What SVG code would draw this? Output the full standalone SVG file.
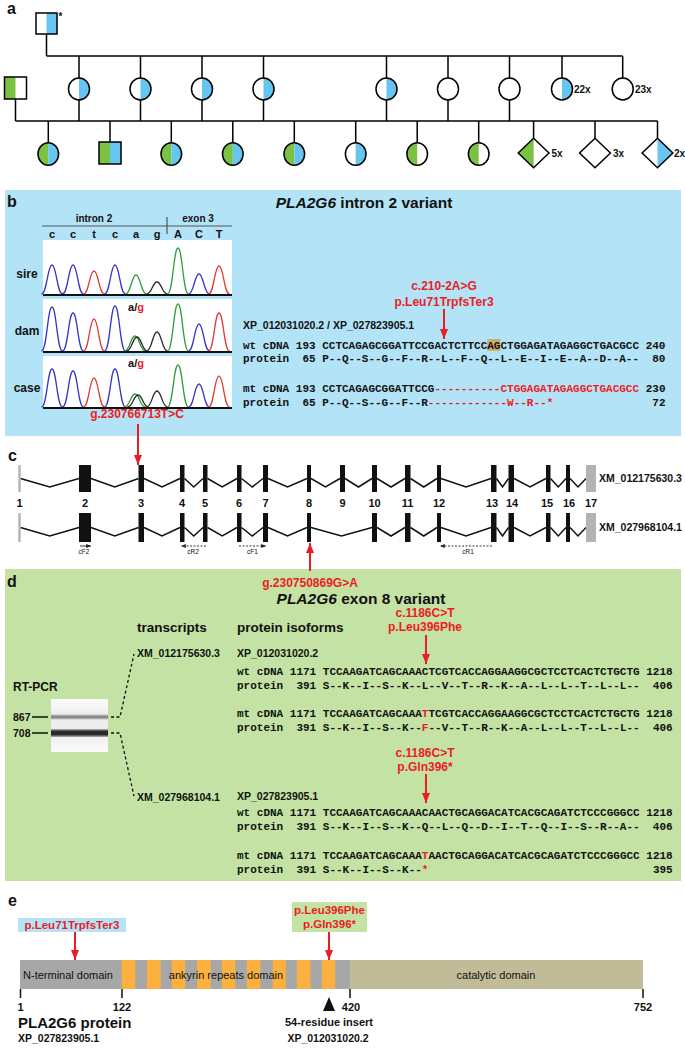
<svg xmlns="http://www.w3.org/2000/svg" width="685" height="1051" viewBox="0 0 685 1051">
<defs>
<style>
text { font-family: "Liberation Sans", Arial, Helvetica, sans-serif; fill: #111; }
.b { font-weight: bold; }
.pl { font-size: 16px; font-weight: bold; }
.mono { font-family: "Liberation Mono", "DejaVu Sans Mono", monospace; font-weight: bold; font-size: 11px; white-space: pre; }
.r { fill: #ed1c24; }
.ln { stroke: #000; stroke-width: 1.5; fill: none; }
.so { stroke: #000; stroke-width: 1.5; fill: none; }
.bl { fill: #67c6ef; }
.gr { fill: #7cc242; }
.ex { fill: #111; }
.exg { fill: #b3b3b3; }
.intr { stroke: #111; stroke-width: 1.5; fill: none; }
.ra { stroke: #ed1c24; stroke-width: 2; fill: none; marker-end: url(#ah); }
.pk { fill: none; stroke-width: 1.3; }
.pB { stroke: #3535c8; } .pR { stroke: #e23a3a; } .pG { stroke: #2f9e3a; } .pK { stroke: #2a2a2a; }
.prim { stroke: #222; stroke-width: 0.9; fill: none; marker-end: url(#ph); }
.dash { stroke-dasharray: 2 1.5; }
.gl { stroke: #111; stroke-width: 1.3; fill: none; stroke-dasharray: 3 2.5; }
.tick { stroke: #111; stroke-width: 1.5; }
.or { fill: #fbb040; }
</style>
<marker id="ah" viewBox="0 0 10 8" refX="10" refY="4" markerWidth="10" markerHeight="8" markerUnits="userSpaceOnUse" orient="auto"><path d="M0,0 L10,4 L0,8 z" fill="#ed1c24"/></marker>
<marker id="ph" viewBox="0 0 6 5" refX="6" refY="2.5" markerWidth="5" markerHeight="4" markerUnits="userSpaceOnUse" orient="auto"><path d="M0,0 L6,2.5 L0,5 z" fill="#222"/></marker>
<linearGradient id="gelbg" x1="0" y1="0" x2="0" y2="1"><stop offset="0" stop-color="#fdfdfd"/><stop offset="0.3" stop-color="#ececec"/><stop offset="0.6" stop-color="#ededed"/><stop offset="1" stop-color="#fafafa"/></linearGradient>
</defs>
<rect width="685" height="1051" fill="#fff"/>

<!-- Panel backgrounds -->
<rect id="panel-b-bg" x="5" y="190" width="676" height="246" fill="#b3e3f6"/>
<rect id="panel-d-bg" x="5" y="569" width="676" height="312" fill="#c3e2a3"/>

<!-- Panel labels -->
<text class="pl" x="7" y="14">a</text>
<text class="pl" x="7" y="207">b</text>
<text class="pl" x="8" y="461">c</text>
<text class="pl" x="7" y="587">d</text>
<text class="pl" x="8" y="906">e</text>

<!-- Connectors -->
<g id="connectors">
  <path class="ln" d="M46.5,34 V56 M46.5,56 H622.7 M79,56 V78 M140.5,56 V78 M202,56 V78 M263.5,56 V78 M386.5,56 V78 M448,56 V78 M509.5,56 V78 M562,56 V78 M622.7,56 V78"/>
  <path class="ln" d="M15.5,99 V121 M15.5,121 H657.5 M79,100 V121 M140.5,100 V121 M202,100 V121 M263.5,100 V121 M386.5,100 V121 M448,100 V121 M509.5,100 V121"/>
  <path class="ln" d="M48.3,121 V142.8 M110,121 V142 M171.3,121 V142.8 M232.8,121 V142.8 M294.3,121 V142.8 M355.7,121 V142.8 M417.2,121 V142.8 M478.7,121 V142.8 M533.6,121 V138.3 M595,121 V138.3 M657.5,121 V138.3"/>
  <line class="ra" x1="138" y1="424" x2="138" y2="465"/>
  <line class="ra" x1="444" y1="309" x2="444" y2="339"/>
  <line class="ra" x1="310" y1="571" x2="310" y2="543"/>
  <line class="ra" x1="426" y1="635" x2="426" y2="664"/>
  <line class="ra" x1="426" y1="774" x2="426" y2="803"/>
  <line class="ra" x1="75" y1="932" x2="75" y2="960"/>
  <line class="ra" x1="329" y1="932" x2="329" y2="960"/>
  <path class="gl" d="M111,717 H120 L134,654"/>
  <path class="gl" d="M111,733 H120 L134,796"/>
</g>

<!-- Panel a: pedigree -->
<g id="pedigree">
  <g id="I-1"><rect x="46.5" y="13" width="10.5" height="21" class="bl"/><rect x="36" y="13" width="21" height="21" class="so"/><text x="58.5" y="20" class="b" font-size="10">*</text></g>
  <g id="II-m"><rect x="4.5" y="77" width="11" height="22" class="gr"/><rect x="4.5" y="77" width="22" height="22" class="so"/></g>
  <g id="II-1"><path d="M79,78 A10.5,11 0 0 1 79,100 Z" class="bl"/><ellipse cx="79" cy="89" rx="10.5" ry="11" class="so"/></g>
  <g id="II-2"><path d="M140.5,78 A10.5,11 0 0 1 140.5,100 Z" class="bl"/><ellipse cx="140.5" cy="89" rx="10.5" ry="11" class="so"/></g>
  <g id="II-3"><path d="M202,78 A10.5,11 0 0 1 202,100 Z" class="bl"/><ellipse cx="202" cy="89" rx="10.5" ry="11" class="so"/></g>
  <g id="II-4"><path d="M263.5,78 A10.5,11 0 0 1 263.5,100 Z" class="bl"/><ellipse cx="263.5" cy="89" rx="10.5" ry="11" class="so"/></g>
  <g id="II-5"><path d="M386.5,78 A10.5,11 0 0 1 386.5,100 Z" class="bl"/><ellipse cx="386.5" cy="89" rx="10.5" ry="11" class="so"/></g>
  <g id="II-6"><ellipse cx="448" cy="89" rx="10.5" ry="11" class="so"/></g>
  <g id="II-7"><ellipse cx="509.5" cy="89" rx="10.5" ry="11" class="so"/></g>
  <g id="II-8"><path d="M562,78 A10.5,11 0 0 1 562,100 Z" class="bl"/><ellipse cx="562" cy="89" rx="10.5" ry="11" class="so"/><text x="574" y="92.5" class="b" font-size="10">22x</text></g>
  <g id="II-9"><ellipse cx="622.7" cy="89" rx="10.5" ry="11" class="so"/><text x="635" y="92.5" class="b" font-size="10">23x</text></g>

  <g id="III-1"><path d="M48.3,142.8 A10.3,11.2 0 0 0 48.3,165.2 Z" class="gr"/><path d="M48.3,142.8 A10.3,11.2 0 0 1 48.3,165.2 Z" class="bl"/><ellipse cx="48.3" cy="154" rx="10.3" ry="11.2" class="so"/></g>
  <g id="III-2"><rect x="99" y="142" width="11" height="22" class="gr"/><rect x="110" y="142" width="11" height="22" class="bl"/><rect x="99" y="142" width="22" height="22" class="so"/></g>
  <g id="III-3"><path d="M171.3,142.8 A10.3,11.2 0 0 0 171.3,165.2 Z" class="gr"/><path d="M171.3,142.8 A10.3,11.2 0 0 1 171.3,165.2 Z" class="bl"/><ellipse cx="171.3" cy="154" rx="10.3" ry="11.2" class="so"/></g>
  <g id="III-4"><path d="M232.8,142.8 A10.3,11.2 0 0 0 232.8,165.2 Z" class="gr"/><path d="M232.8,142.8 A10.3,11.2 0 0 1 232.8,165.2 Z" class="bl"/><ellipse cx="232.8" cy="154" rx="10.3" ry="11.2" class="so"/></g>
  <g id="III-5"><path d="M294.3,142.8 A10.3,11.2 0 0 0 294.3,165.2 Z" class="gr"/><path d="M294.3,142.8 A10.3,11.2 0 0 1 294.3,165.2 Z" class="bl"/><ellipse cx="294.3" cy="154" rx="10.3" ry="11.2" class="so"/></g>
  <g id="III-6"><path d="M355.7,142.8 A10.3,11.2 0 0 1 355.7,165.2 Z" class="bl"/><ellipse cx="355.7" cy="154" rx="10.3" ry="11.2" class="so"/></g>
  <g id="III-7"><path d="M417.2,142.8 A10.3,11.2 0 0 0 417.2,165.2 Z" class="gr"/><ellipse cx="417.2" cy="154" rx="10.3" ry="11.2" class="so"/></g>
  <g id="III-8"><path d="M478.7,142.8 A10.3,11.2 0 0 0 478.7,165.2 Z" class="gr"/><ellipse cx="478.7" cy="154" rx="10.3" ry="11.2" class="so"/></g>
  <g id="III-9"><polygon points="533.6,138.3 518.2,153 533.6,167.7" class="gr"/><polygon points="533.6,138.3 549,153 533.6,167.7 518.2,153" class="so"/><text x="551.5" y="156.5" class="b" font-size="10">5x</text></g>
  <g id="III-10"><polygon points="595,138.3 610.4,153 595,167.7 579.6,153" class="so"/><text x="613" y="156.5" class="b" font-size="10">3x</text></g>
  <g id="III-11"><polygon points="657.5,138.3 672.9,153 657.5,167.7" class="bl"/><polygon points="657.5,138.3 672.9,153 657.5,167.7 642.1,153" class="so"/><text x="674" y="156.5" class="b" font-size="10">2x</text></g>
</g>

<!-- Panel b -->
<g id="panel-b">
  <text x="364" y="208" text-anchor="middle" class="b" font-size="15.5"><tspan font-style="italic">PLA2G6</tspan> intron 2 variant</text>
  <g id="chromatogram">
    <text x="94" y="222" text-anchor="middle" class="b" font-size="10">intron 2</text>
    <text x="198" y="222" text-anchor="middle" class="b" font-size="10">exon 3</text>
    <path d="M42,226 H232 M167,217 V234" stroke="#555" stroke-width="1.2"/>
    <g class="b" font-size="11" text-anchor="middle">
      <text x="52" y="238">c</text><text x="73" y="238">c</text><text x="94" y="238">t</text><text x="115" y="238">c</text><text x="136" y="238">a</text><text x="157" y="238">g</text><text x="178" y="238">A</text><text x="199" y="238">C</text><text x="219" y="238">T</text>
    </g>
    <rect x="43" y="240" width="189" height="56" fill="#fff"/>
    <rect x="43" y="299" width="189" height="54" fill="#fff"/>
    <rect x="43" y="356" width="189" height="53" fill="#fff"/>
    <g class="b" font-size="12" text-anchor="middle">
      <text x="27" y="278">sire</text><text x="27" y="335">dam</text><text x="27" y="392">case</text>
    </g>
    <!-- sire -->
    <path class="pk pB" d="M41.5,294 C47,294 47.5,265 52,265 S57,294 62.5,294 M62.5,294 C68,294 68.5,265 73,265 S78,294 83.5,294 M104.5,294 C110,294 110.5,265 115,265 S120,294 125.5,294 M188.5,294 C194,294 194.5,274 199,274 S204,294 209.5,294"/>
    <path class="pk pR" d="M83.5,294 C89,294 89.5,271 94,271 S99,294 104.5,294 M208.5,294 C214,294 214.5,266 219,266 S224,294 229.5,294"/>
    <path class="pk pG" d="M125.5,294 C131,294 131.5,275 136,275 S141,294 146.5,294 M167.5,294 C173,294 173.5,248 178,248 S183,294 188.5,294"/>
    <path class="pk pK" d="M146.5,294 C152,294 152.5,282 157,282 S162,294 167.5,294"/>
    <line x1="43" y1="295" x2="232" y2="295" stroke="#111" stroke-width="2"/>
    <!-- dam -->
    <path class="pk pB" d="M41.5,351 C47,351 47.5,307 52,307 S57,351 62.5,351 M62.5,351 C68,351 68.5,313 73,313 S78,351 83.5,351 M104.5,351 C110,351 110.5,306 115,306 S120,351 125.5,351 M188.5,351 C194,351 194.5,324 199,324 S204,351 209.5,351"/>
    <path class="pk pR" d="M83.5,351 C89,351 89.5,319 94,319 S99,351 104.5,351 M208.5,351 C214,351 214.5,313 219,313 S224,351 229.5,351"/>
    <path class="pk pG" d="M124.5,351 C130,351 130.5,336 135,336 S140,351 145.5,351 M167.5,351 C173,351 173.5,304 178,304 S183,351 188.5,351"/>
    <path class="pk pK" d="M126.5,351 C132,351 132.5,337 137,337 S142,351 147.5,351 M146.5,351 C152,351 152.5,332 157,332 S162,351 167.5,351"/>
    <line x1="43" y1="352" x2="232" y2="352" stroke="#111" stroke-width="2"/>
    <text x="136" y="311" text-anchor="middle" class="b" font-size="11">a/<tspan class="r">g</tspan></text>
    <!-- case -->
    <path class="pk pB" d="M41.5,407 C47,407 47.5,369 52,369 S57,407 62.5,407 M62.5,407 C68,407 68.5,371 73,371 S78,407 83.5,407 M104.5,407 C110,407 110.5,369 115,369 S120,407 125.5,407 M188.5,407 C194,407 194.5,384 199,384 S204,407 209.5,407"/>
    <path class="pk pR" d="M83.5,407 C89,407 89.5,378 94,378 S99,407 104.5,407 M208.5,407 C214,407 214.5,376 219,376 S224,407 229.5,407"/>
    <path class="pk pG" d="M124.5,407 C130,407 130.5,394 135,394 S140,407 145.5,407 M167.5,407 C173,407 173.5,365 178,365 S183,407 188.5,407"/>
    <path class="pk pK" d="M127.5,407 C133,407 133.5,395 138,395 S143,407 148.5,407 M146.5,407 C152,407 152.5,391 157,391 S162,407 167.5,407"/>
    <line x1="43" y1="408" x2="232" y2="408" stroke="#111" stroke-width="2"/>
    <text x="136" y="367" text-anchor="middle" class="b" font-size="11">a/<tspan class="r">g</tspan></text>
  </g>
  <text x="137" y="418" text-anchor="middle" class="b r" font-size="12">g.230766713T&gt;C</text>
  <text x="444" y="290" text-anchor="middle" class="b r" font-size="12">c.210-2A&gt;G</text>
  <text x="444" y="306" text-anchor="middle" class="b r" font-size="12">p.Leu71TrpfsTer3</text>
  <text x="243" y="329" class="b" font-size="10.5">XP_012031020.2 / XP_027823905.1</text>
  <rect x="487.2" y="339" width="13.2" height="12" fill="#cfae6b"/>
  <text x="243" y="349" class="mono" xml:space="preserve">wt cDNA 193 CCTCAGAGCGGATTCCGACTCTTCCAGCTGGAGATAGAGGCTGACGCC 240</text>
  <text x="243" y="362" class="mono" xml:space="preserve">protein  65 P--Q--S--G--F--R--L--F--Q--L--E--I--E--A--D--A--  80</text>
  <text x="243" y="392" class="mono" xml:space="preserve">mt cDNA 193 CCTCAGAGCGGATTCCG<tspan class="r">----------CTGGAGATAGAGGCTGACGCC</tspan> 230</text>
  <text x="243" y="406" class="mono" xml:space="preserve">protein  65 P--Q--S--G--F--R<tspan class="r">------------W--R--*</tspan>               72</text>
</g>

<!-- Panel c: gene structure -->
<g id="panel-c">
  <g id="transcript-1">
    <path class="intr" d="M20.5,478.5 L49.75,487 L79,478.5 M91,478.5 L114.75,487 L138.5,478.5 M144,478.5 L162,487 L180,478.5 M184.5,478.5 L193.75,487 L203,478.5 M207.5,478.5 L222.25,487 L237,478.5 M241.5,478.5 L252.25,487 L263,478.5 M268,478.5 L287.5,487 L307,478.5 M311,478.5 L325.5,487 L340,478.5 M345,478.5 L358.5,487 L372,478.5 M377,478.5 L391,487 L405,478.5 M410.5,478.5 L423.75,487 L437,478.5 M441,478.5 L466,487 L491,478.5 M496.5,478.5 L502.5,487 L508.5,478.5 M514,478.5 L530,487 L546,478.5 M550.5,478.5 L558.25,487 L566,478.5 M570,478.5 L578,487 L586,478.5"/>
    <rect class="exg" x="18.3" y="465" width="2.4" height="27"/>
    <rect class="ex" x="79" y="465" width="12" height="27"/>
    <rect class="ex" x="138.5" y="465" width="5.5" height="27"/>
    <rect class="ex" x="180" y="465" width="4.5" height="27"/>
    <rect class="ex" x="203" y="465" width="4.5" height="27"/>
    <rect class="ex" x="237" y="465" width="4.5" height="27"/>
    <rect class="ex" x="263" y="465" width="5" height="27"/>
    <rect class="ex" x="307" y="465" width="4" height="27"/>
    <rect class="ex" x="340" y="465" width="5" height="27"/>
    <rect class="ex" x="372" y="465" width="5" height="27"/>
    <rect class="ex" x="405" y="465" width="5.5" height="27"/>
    <rect class="ex" x="437" y="465" width="4" height="27"/>
    <rect class="ex" x="491" y="465" width="5.5" height="27"/>
    <rect class="ex" x="508.5" y="465" width="5.5" height="27"/>
    <rect class="ex" x="546" y="465" width="4.5" height="27"/>
    <rect class="ex" x="566" y="465" width="4" height="27"/>
    <rect class="exg" x="586" y="465" width="10" height="27"/>
    <text x="599" y="482" class="b" font-size="10.5">XM_012175630.3</text>
  </g>
  <g id="exon-numbers" class="b" font-size="11" text-anchor="middle">
    <text x="19.5" y="507">1</text><text x="85" y="507">2</text><text x="141" y="507">3</text><text x="182" y="507">4</text><text x="205" y="507">5</text><text x="239" y="507">6</text><text x="265.5" y="507">7</text><text x="309" y="507">8</text><text x="342.5" y="507">9</text><text x="374.5" y="507">10</text><text x="407.5" y="507">11</text><text x="439" y="507">12</text><text x="492" y="507">13</text><text x="512" y="507">14</text><text x="547" y="507">15</text><text x="569" y="507">16</text><text x="591" y="507">17</text>
  </g>
  <g id="transcript-2">
    <path class="intr" d="M20.5,527.5 L49.75,536 L79,527.5 M91,527.5 L114.75,536 L138.5,527.5 M144,527.5 L162,536 L180,527.5 M184.5,527.5 L193.75,536 L203,527.5 M207.5,527.5 L222.25,536 L237,527.5 M241.5,527.5 L252.25,536 L263,527.5 M268,527.5 L287.5,536 L307,527.5 M311,527.5 L341.5,536 L372,527.5 M377,527.5 L391,536 L405,527.5 M410.5,527.5 L423.75,536 L437,527.5 M441,527.5 L466,536 L491,527.5 M496.5,527.5 L502.5,536 L508.5,527.5 M514,527.5 L530,536 L546,527.5 M550.5,527.5 L558.25,536 L566,527.5 M570,527.5 L578,536 L586,527.5"/>
    <rect class="exg" x="18.3" y="513" width="2.4" height="29"/>
    <rect class="ex" x="79" y="513" width="12" height="29"/>
    <rect class="ex" x="138.5" y="513" width="5.5" height="29"/>
    <rect class="ex" x="180" y="513" width="4.5" height="29"/>
    <rect class="ex" x="203" y="513" width="4.5" height="29"/>
    <rect class="ex" x="237" y="513" width="4.5" height="29"/>
    <rect class="ex" x="263" y="513" width="5" height="29"/>
    <rect class="ex" x="307" y="513" width="4" height="29"/>
    <rect class="ex" x="372" y="513" width="5" height="29"/>
    <rect class="ex" x="405" y="513" width="5.5" height="29"/>
    <rect class="ex" x="437" y="513" width="4" height="29"/>
    <rect class="ex" x="491" y="513" width="5.5" height="29"/>
    <rect class="ex" x="508.5" y="513" width="5.5" height="29"/>
    <rect class="ex" x="546" y="513" width="4.5" height="29"/>
    <rect class="ex" x="566" y="513" width="4" height="29"/>
    <rect class="exg" x="586" y="513" width="10" height="29"/>
    <text x="599" y="531" class="b" font-size="10.5">XM_027968104.1</text>
  </g>
  <g id="primers">
    <line class="prim" x1="80" y1="546" x2="91" y2="546"/>
    <line class="prim dash" x1="206" y1="546" x2="181" y2="546"/>
    <line class="prim dash" x1="239" y1="546" x2="266" y2="546"/>
    <line class="prim dash" x1="492" y1="546" x2="440" y2="546"/>
    <g font-size="6.5" text-anchor="middle"><text x="84" y="554">cF2</text><text x="193" y="554">cR2</text><text x="252.5" y="554">cF1</text><text x="468" y="554">cR1</text></g>
  </g>
</g>

<!-- Panel d -->
<g id="panel-d">
  <text x="310" y="587" text-anchor="middle" class="b r" font-size="12">g.230750869G&gt;A</text>
  <text x="361" y="604" text-anchor="middle" class="b" font-size="15.5"><tspan font-style="italic">PLA2G6</tspan> exon 8 variant</text>
  <text x="137" y="632" class="b" font-size="13.5">transcripts</text>
  <text x="237" y="632" class="b" font-size="13.5">protein isoforms</text>
  <text x="425" y="617" text-anchor="middle" class="b r" font-size="12">c.1186C&gt;T</text>
  <text x="425" y="631" text-anchor="middle" class="b r" font-size="12">p.Leu396Phe</text>
  <g id="rt-pcr">
    <text x="13" y="691" class="b" font-size="12">RT-PCR</text>
    <rect x="51" y="699" width="57" height="53" fill="url(#gelbg)"/>
    <rect x="51" y="714.5" width="57" height="5" fill="#c8c8c8"/>
    <rect x="51" y="715.5" width="57" height="3" fill="#8a8a8a"/>
    <rect x="51" y="729" width="57" height="8" fill="#9a9a9a"/>
    <rect x="51" y="730.5" width="57" height="5" fill="#2a2a2a"/>
    <text x="13" y="721" class="b" font-size="10.5">867</text>
    <text x="13" y="737" class="b" font-size="10.5">708</text>
    <path d="M32,717 H48 M32,733 H48" stroke="#111" stroke-width="1.3"/>
  </g>
  <text x="137" y="657" class="b" font-size="10.5">XM_012175630.3</text>
  <text x="137" y="801" class="b" font-size="10.5">XM_027968104.1</text>
  <text x="237" y="657" class="b" font-size="10.5">XP_012031020.2</text>
  <text x="237" y="675" class="mono" xml:space="preserve">wt cDNA 1171 TCCAAGATCAGCAAACTCGTCACCAGGAAGGCGCTCCTCACTCTGCTG 1218</text>
  <text x="237" y="689" class="mono" xml:space="preserve">protein  391 S--K--I--S--K--L--V--T--R--K--A--L--L--T--L--L--  406</text>
  <text x="237" y="717" class="mono" xml:space="preserve">mt cDNA 1171 TCCAAGATCAGCAAA<tspan class="r">T</tspan>TCGTCACCAGGAAGGCGCTCCTCACTCTGCTG 1218</text>
  <text x="237" y="731" class="mono" xml:space="preserve">protein  391 S--K--I--S--K--<tspan class="r">F</tspan>--V--T--R--K--A--L--L--T--L--L--  406</text>
  <text x="425" y="757" text-anchor="middle" class="b r" font-size="12">c.1186C&gt;T</text>
  <text x="425" y="771" text-anchor="middle" class="b r" font-size="12">p.Gln396*</text>
  <text x="237" y="800" class="b" font-size="10.5">XP_027823905.1</text>
  <text x="237" y="816" class="mono" xml:space="preserve">wt cDNA 1171 TCCAAGATCAGCAAACAACTGCAGGACATCACGCAGATCTCCCGGGCC 1218</text>
  <text x="237" y="830" class="mono" xml:space="preserve">protein  391 S--K--I--S--K--Q--L--Q--D--I--T--Q--I--S--R--A--  406</text>
  <text x="237" y="859" class="mono" xml:space="preserve">mt cDNA 1171 TCCAAGATCAGCAAA<tspan class="r">T</tspan>AACTGCAGGACATCACGCAGATCTCCCGGGCC 1218</text>
  <text x="237" y="873" class="mono" xml:space="preserve">protein  391 S--K--I--S--K--<tspan class="r">*</tspan>                                  395</text>
</g>

<!-- Panel e: protein -->
<g id="panel-e">
  <g id="mut-label-1"><rect x="18" y="918" width="108" height="14" fill="#b3e3f6"/><text x="72" y="929" text-anchor="middle" class="b r" font-size="11.5">p.Leu71TrpfsTer3</text></g>
  <g id="mut-label-2"><rect x="292" y="902" width="75" height="30" fill="#c3e2a3"/><text x="329.5" y="913.5" text-anchor="middle" class="b r" font-size="11.5">p.Leu396Phe</text><text x="329.5" y="927.5" text-anchor="middle" class="b r" font-size="11.5">p.Gln396*</text></g>
  <g id="protein-bar">
    <rect x="20" y="960" width="330" height="29" fill="#a7a7a7"/>
    <rect x="350" y="960" width="293" height="29" fill="#c2bb98"/>
    <rect class="or" x="121.7" y="960" width="13.6" height="29"/>
    <rect class="or" x="147" y="960" width="13.7" height="29"/>
    <rect class="or" x="171.7" y="960" width="13.6" height="29"/>
    <rect class="or" x="197" y="960" width="13.8" height="29"/>
    <rect class="or" x="221.8" y="960" width="13.6" height="29"/>
    <rect class="or" x="246.8" y="960" width="13.6" height="29"/>
    <rect class="or" x="272.7" y="960" width="13.2" height="29"/>
    <rect class="or" x="296.9" y="960" width="13.6" height="29"/>
    <rect class="or" x="321.9" y="960" width="13.2" height="29"/>
    <text x="68" y="978.5" text-anchor="middle" font-size="11">N-terminal domain</text>
    <text x="226" y="978.5" text-anchor="middle" font-size="11">ankyrin repeats domain</text>
    <text x="496" y="978.5" text-anchor="middle" font-size="11">catalytic domain</text>
    <path class="tick" d="M20.5,989 V998 M122,989 V998 M350,989 V998 M643,989 V998"/>
    <g class="b" font-size="11" text-anchor="middle"><text x="20.5" y="1011">1</text><text x="122" y="1011">122</text><text x="351" y="1011">420</text><text x="643" y="1011">752</text></g>
    <polygon points="329,997 335,1011 323,1011" fill="#111"/>
    <text x="329" y="1026" text-anchor="middle" class="b" font-size="11">54-residue insert</text>
    <text x="328" y="1042" text-anchor="middle" class="b" font-size="10.5">XP_012031020.2</text>
    <text x="18" y="1028" class="b" font-size="15">PLA2G6 protein</text>
    <text x="18" y="1042" class="b" font-size="10.5">XP_027823905.1</text>
  </g>
</g>
</svg>
